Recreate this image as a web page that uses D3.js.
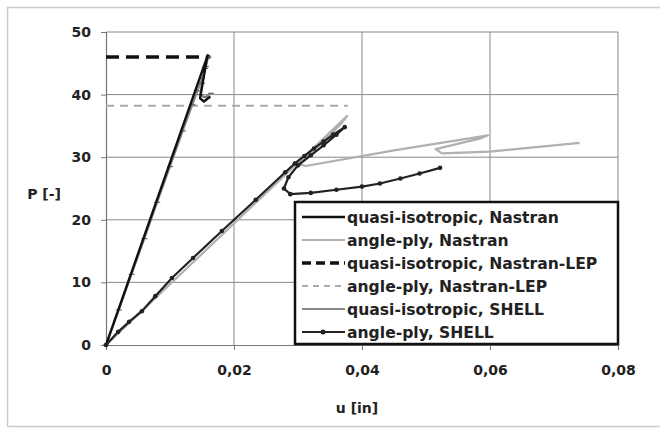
<!DOCTYPE html>
<html>
<head>
<meta charset="utf-8">
<script src="https://cdn.jsdelivr.net/npm/d3@7"></script>
<style>
  body { margin: 0; background: #fff; }
  svg text { font-family: "DejaVu Sans", "Liberation Sans", sans-serif; font-weight: bold; fill: #222; }
</style>
</head>
<body>
<svg id="chart" width="660" height="435"></svg>
<script>
// ticks
var xTicks = [0, 0.02, 0.04, 0.06, 0.08];
var xTickLabels = ["0", "0,02", "0,04", "0,06", "0,08"];
var yTicks = [0, 10, 20, 30, 40, 50];
var yTickLabels = ["0", "10", "20", "30", "40", "50"];

// series [u, P]
var qiNastran = [[0, 0], [0.0159, 46.3], [0.0157, 45.4], [0.0147, 39.4], [0.0153, 38.9], [0.0163, 39.7]];
var apNastran = [[0, 0], [0.0377, 36.6], [0.0366, 35.2], [0.0302, 28.9], [0.0312, 28.6], [0.045, 31.1],
                 [0.0597, 33.5], [0.0585, 33.0], [0.0515, 31.3], [0.0525, 30.6], [0.060, 30.9], [0.074, 32.3]];
var qiLEP = [[0, 46.0], [0.0163, 46.0]];
var apLEP = [[0, 38.2], [0.0378, 38.2]];
var qiShell = [[0, 0], [0.0020, 5.6], [0.0040, 11.3], [0.0060, 17.0], [0.0080, 22.8], [0.0100, 28.5],
               [0.0120, 34.2], [0.0135, 38.4], [0.0143, 40.6], [0.0150, 42.6], [0.0155, 44.2],
               [0.0160, 46.0], [0.0156, 44.5], [0.0150, 41.8], [0.0147, 40.0], [0.0155, 39.6], [0.0164, 40.2]];
var apShell = [[0, 0], [0.0019, 2.1], [0.0036, 3.7], [0.0056, 5.4], [0.0077, 7.8], [0.0103, 10.7],
               [0.0136, 13.9], [0.0181, 18.2], [0.0234, 23.2], [0.0280, 27.6], [0.0295, 29.0],
               [0.0310, 30.2], [0.0325, 31.4], [0.0340, 32.5], [0.0355, 33.6], [0.0373, 34.8],
               [0.0360, 33.6], [0.0340, 31.9], [0.0320, 30.3], [0.0300, 28.7], [0.0285, 26.8],
               [0.0278, 25.0], [0.0288, 24.1], [0.0320, 24.3], [0.0360, 24.8], [0.0400, 25.3],
               [0.0428, 25.8], [0.0460, 26.6], [0.0490, 27.4], [0.0522, 28.3]];

var legendNames = ["quasi-isotropic, Nastran", "angle-ply, Nastran", "quasi-isotropic, Nastran-LEP",
                   "angle-ply, Nastran-LEP", "quasi-isotropic, SHELL", "angle-ply, SHELL"];

var svg = d3.select("#chart");

// outer frame
svg.append("rect").attr("x", 7.5).attr("y", 7.5).attr("width", 680).attr("height", 419)
  .attr("fill", "none").attr("stroke", "#ccc").attr("stroke-width", 1.5);

var x = d3.scaleLinear().domain([0, 0.08]).range([106, 618]);
var y = d3.scaleLinear().domain([0, 50]).range([345, 32]);

// grid
var grid = svg.append("g");
grid.selectAll(".gx").data(xTicks.slice(1)).enter().append("line")
  .attr("x1", function(d) { return x(d); }).attr("x2", function(d) { return x(d); })
  .attr("y1", y(0)).attr("y2", y(50))
  .attr("stroke", "#888").attr("stroke-width", 1);
grid.selectAll(".gy").data(yTicks.slice(1)).enter().append("line")
  .attr("x1", x(0)).attr("x2", x(0.08))
  .attr("y1", function(d) { return y(d); }).attr("y2", function(d) { return y(d); })
  .attr("stroke", "#888").attr("stroke-width", 1);

// axes
var xAxis = d3.axisBottom(x).tickValues(xTicks).tickSize(5).tickPadding(15)
  .tickFormat(function(d, i) { return xTickLabels[i]; });
var yAxis = d3.axisLeft(y).tickValues(yTicks).tickSize(5).tickPadding(10)
  .tickFormat(function(d, i) { return yTickLabels[i]; });

var gx = svg.append("g").attr("transform", "translate(0," + y(0) + ")").call(xAxis);
var gy = svg.append("g").attr("transform", "translate(" + x(0) + ",0)").call(yAxis);
[gx, gy].forEach(function(g) {
  g.select(".domain").attr("stroke", "#777").attr("stroke-width", 1.2);
  g.selectAll(".tick line").attr("stroke", "#777");
  g.selectAll(".tick text").attr("font-size", 14).attr("font-family", null).style("fill", "#222");
});

var line = d3.line().x(function(d) { return x(d[0]); }).y(function(d) { return y(d[1]); });

function draw(data, color, width, dash) {
  svg.append("path").datum(data).attr("d", line)
    .attr("fill", "none").attr("stroke", color).attr("stroke-width", width)
    .attr("stroke-dasharray", dash || null).attr("stroke-linejoin", "round");
}

draw(apNastran, "#b0b0b0", 2.2);
draw(apLEP, "#aaa", 2, "8,6");
draw(qiLEP, "#111", 3.5, "13,7");
draw(qiShell, "#888", 2);
svg.append("g").selectAll("line").data(qiShell).enter().append("line")
  .attr("x1", function(d) { return x(d[0]) - 3; }).attr("x2", function(d) { return x(d[0]) + 3; })
  .attr("y1", function(d) { return y(d[1]); }).attr("y2", function(d) { return y(d[1]); })
  .attr("stroke", "#666").attr("stroke-width", 1.2);
draw(qiNastran, "#111", 2.4);
draw(apShell, "#222", 2.2);
svg.append("g").selectAll("circle").data(apShell).enter().append("circle")
  .attr("cx", function(d) { return x(d[0]); }).attr("cy", function(d) { return y(d[1]); })
  .attr("r", 2.3).attr("fill", "#222");

// axis titles
svg.append("text").attr("x", 44).attr("y", 199).attr("text-anchor", "middle")
  .attr("font-size", 14).text("P [-]");
svg.append("text").attr("x", 357).attr("y", 413).attr("text-anchor", "middle")
  .attr("font-size", 14).text("u [in]");

// legend
var lg = svg.append("g");
lg.append("rect").attr("x", 295).attr("y", 202).attr("width", 323).attr("height", 142)
  .attr("fill", "#fff").attr("stroke", "#111").attr("stroke-width", 2.5);
var styles = [
  { c: "#111", w: 2.4, d: null },
  { c: "#b0b0b0", w: 2.2, d: null },
  { c: "#111", w: 3.5, d: "9,5" },
  { c: "#aaa", w: 2, d: "6,5" },
  { c: "#888", w: 2, d: null },
  { c: "#222", w: 2.2, d: null }
];
legendNames.forEach(function(name, i) {
  var yy = 217 + i * 23;
  var s = styles[i];
  lg.append("line").attr("x1", 302).attr("x2", 345).attr("y1", yy).attr("y2", yy)
    .attr("stroke", s.c).attr("stroke-width", s.w).attr("stroke-dasharray", s.d);
  if (i === 5) {
    lg.append("circle").attr("cx", 323).attr("cy", yy).attr("r", 2.5).attr("fill", "#222");
  }
  lg.append("text").attr("x", 347).attr("y", yy + 6).attr("font-size", 15.6).text(name);
});
</script>
</body>
</html>
